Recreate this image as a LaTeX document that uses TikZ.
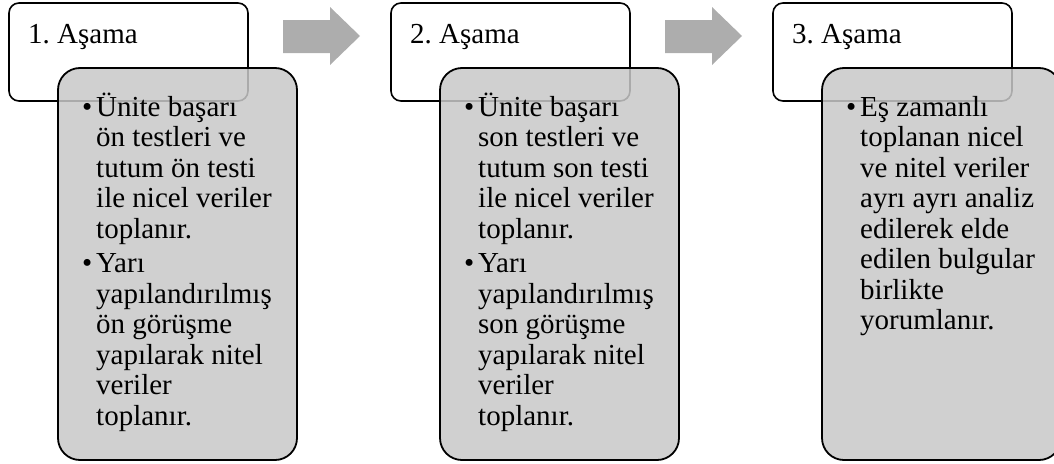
\documentclass[tikz,border=0pt]{standalone}
\usepackage{fontspec}
\setmainfont{Liberation Serif}
\definecolor{bodygray}{gray}{0.784}
\definecolor{arrowgray}{gray}{0.68}
\frenchspacing
\begin{document}
\begin{tikzpicture}[x=1pt,y=-1pt,
  headbox/.style={draw=black, line width=1.6pt, fill=white, rounded corners=10pt,
    minimum width=239pt, minimum height=98pt, inner sep=0pt},
  bodybox/.style={draw=black, line width=1.8pt, fill=bodygray, fill opacity=0.85,
    draw opacity=1, rounded corners=22pt, minimum width=239pt, minimum height=392pt, inner sep=0pt},
  titletext/.style={anchor=base west, inner sep=0pt, font=\fontsize{29}{30.5}\selectfont},
  bodytext/.style={anchor=base west, inner sep=0pt, font=\fontsize{29}{30.5}\selectfont},
  blockarrow/.style={fill=arrowgray}]
\useasboundingbox (0,0) rectangle (1054,463);
\clip (0,0) rectangle (1054,463);
\newcommand{\bul}{\leavevmode\llap{•\hspace{4pt}}}
% group 1
\node[headbox] (h1) at (128.5,52) {};
\node[bodybox] (b1) at (177.5,264) {};
\node[titletext] (t1) at (28,43) {1. Aşama};
\node[bodytext] (s1) at (96,116) {\parbox[t]{230pt}{\raggedright\frenchspacing
  \bul Ünite başarı\\ ön testleri ve\\ tutum ön testi\\ ile nicel veriler\\ toplanır.\\[4pt]
  \bul Yarı\\ yapılandırılmış\\ ön görüşme\\ yapılarak nitel\\ veriler\\ toplanır.}};
\fill[blockarrow] (283,20) -- (330,20) -- (330,7) -- (360,36) -- (330,65) -- (330,53) -- (283,53) -- cycle;
% group 2
\node[headbox] (h2) at (510.5,52) {};
\node[bodybox] (b2) at (559.5,264) {};
\node[titletext] (t2) at (410,43) {2. Aşama};
\node[bodytext] (s2) at (478,116) {\parbox[t]{230pt}{\raggedright\frenchspacing
  \bul Ünite başarı\\ son testleri ve\\ tutum son testi\\ ile nicel veriler\\ toplanır.\\[4pt]
  \bul Yarı\\ yapılandırılmış\\ son görüşme\\ yapılarak nitel\\ veriler\\ toplanır.}};
\fill[blockarrow] (665,20) -- (712,20) -- (712,7) -- (742,36) -- (712,65) -- (712,53) -- (665,53) -- cycle;
% group 3
\node[headbox] (h3) at (892.5,52) {};
\node[bodybox] (b3) at (941.5,264) {};
\node[titletext] (t3) at (792,43) {3. Aşama};
\node[bodytext] (s3) at (860,116) {\parbox[t]{230pt}{\raggedright\frenchspacing
  \bul Eş zamanlı\\ toplanan nicel\\ ve nitel veriler\\ ayrı ayrı analiz\\ edilerek elde\\ edilen bulgular\\ birlikte\\ yorumlanır.}};
\end{tikzpicture}
\end{document}
